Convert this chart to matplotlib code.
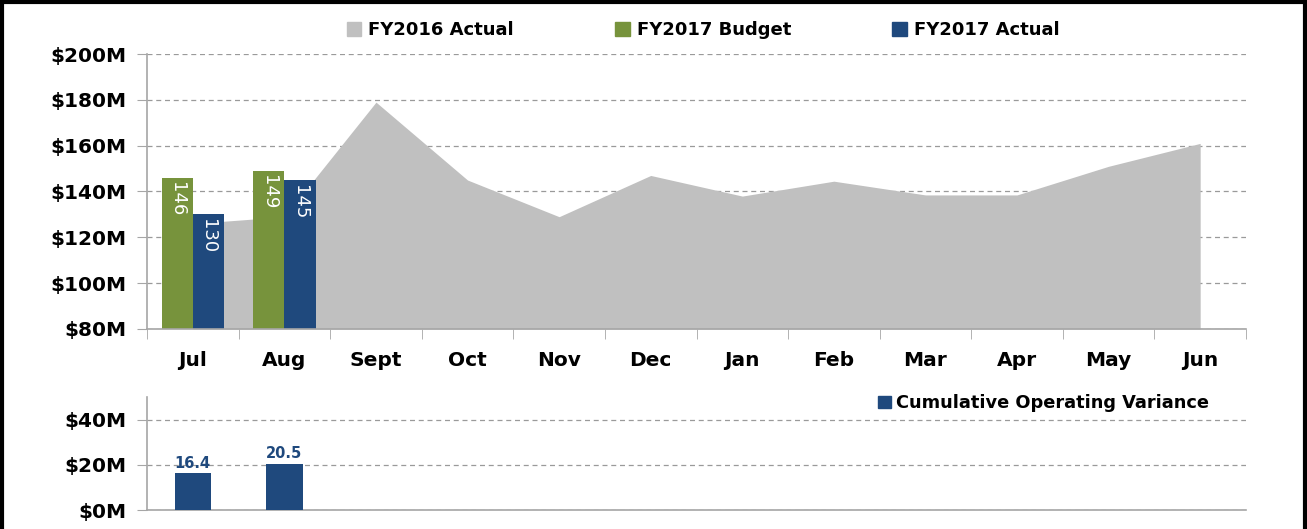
import numpy as np
import matplotlib.pyplot as plt
from matplotlib.patches import Patch
from matplotlib.lines import Line2D

months = ['Jul', 'Aug', 'Sept', 'Oct', 'Nov', 'Dec', 'Jan', 'Feb', 'Mar', 'Apr', 'May', 'Jun']
fy2016_actual = [126, 129, 179, 145, 129, 147, 138, 144.5, 138.5, 138.5, 151, 161]
fy2017_budget = [146, 149]
fy2017_actual = [130, 145]
cum_variance = [16.4, 20.5]

grey = '#c0c0c0'
green = '#77933c'
blue = '#1f497d'
axis_grey = '#a6a6a6'
grid_grey = '#9a9a9a'

plt.rcParams['font.family'] = 'DejaVu Sans'

fig = plt.figure(figsize=(13.07, 5.29), dpi=100)
ax = fig.add_axes([0.1125, 0.3781, 0.8408, 0.5198])
ax2 = fig.add_axes([0.1125, 0.0359, 0.8408, 0.2136])

x = np.arange(len(months))

# top panel
ax.fill_between(x, fy2016_actual, 80, color=grey, lw=0, zorder=2)
w = 0.34
xb = np.arange(len(fy2017_budget))
b1 = ax.bar(xb - w / 2, fy2017_budget, w, bottom=0, color=green, zorder=3)
b2 = ax.bar(xb + w / 2, fy2017_actual, w, bottom=0, color=blue, zorder=3)
for bars, vals in [(b1, fy2017_budget), (b2, fy2017_actual)]:
    for b, v in zip(bars, vals):
        ax.text(b.get_x() + b.get_width() / 2, v - 2, '%d' % v, rotation=270,
                ha='center', va='top', color='white', fontsize=13, zorder=4)

ax.set_xlim(-0.5, len(months) - 0.5)
ax.set_ylim(80, 200)
ax.set_yticks(np.arange(80, 201, 20))
ax.set_yticklabels(['$%dM' % v for v in np.arange(80, 201, 20)], fontsize=14.5, fontweight='bold')
ax.set_xticks(x)
ax.set_xticklabels(months, fontsize=14.5, fontweight='bold')
ax.set_xticks(np.arange(-0.5, len(months), 1), minor=True)
ax.tick_params(axis='x', which='major', length=0, pad=16)
ax.tick_params(axis='x', which='minor', length=7, color=axis_grey, direction='out')
ax.tick_params(axis='y', length=7, color=axis_grey, pad=8)
ax.grid(axis='y', linestyle=(0, (4, 3)), color=grid_grey, lw=0.9, zorder=0)
ax.set_axisbelow(True)
for s in ['top', 'right']:
    ax.spines[s].set_visible(False)
for s in ['left', 'bottom']:
    ax.spines[s].set_color(axis_grey)
    ax.spines[s].set_linewidth(1.2)
    ax.spines[s].set_zorder(5)

handles = [Patch(color=grey, label='FY2016 Actual'),
           Patch(color=green, label='FY2017 Budget'),
           Patch(color=blue, label='FY2017 Actual')]
fig.legend(handles=handles, loc='center', bbox_to_anchor=(0.538, 0.943), ncol=3, frameon=False,
           prop={'weight': 'bold', 'size': 13}, handlelength=0.8, handleheight=0.8,
           handletextpad=0.4, columnspacing=5.6)

# bottom panel
ax2.bar(np.arange(len(cum_variance)), cum_variance, 0.4, color=blue, zorder=3)
for i, v in enumerate(cum_variance):
    ax2.text(i, v + 1, '%.1f' % v, ha='center', va='bottom', color=blue,
             fontsize=10.5, fontweight='bold')
ax2.set_xlim(-0.5, len(months) - 0.5)
ax2.set_ylim(0, 50)
ax2.set_yticks([0, 20, 40])
ax2.set_yticklabels(['$%dM' % v for v in [0, 20, 40]], fontsize=14.5, fontweight='bold')
ax2.set_xticks([])
ax2.tick_params(axis='y', length=7, color=axis_grey, pad=8)
ax2.grid(axis='y', linestyle=(0, (4, 3)), color=grid_grey, lw=0.9, zorder=0)
ax2.set_axisbelow(True)
for s in ['top', 'right']:
    ax2.spines[s].set_visible(False)
for s in ['left', 'bottom']:
    ax2.spines[s].set_color(axis_grey)
    ax2.spines[s].set_linewidth(1.2)
ax2.legend(handles=[Patch(color=blue, label='Cumulative Operating Variance')],
           loc='upper right', bbox_to_anchor=(0.981, 1.165), frameon=False,
           prop={'weight': 'bold', 'size': 12.8}, handlelength=0.7, handleheight=0.7,
           handletextpad=0.3)

# outer frame
for xs, ys in [([0.0015, 0.0015], [0, 1]), ([0, 1], [0.997, 0.997]), ([0.9985, 0.9985], [0, 1])]:
    fig.add_artist(Line2D(xs, ys, color='black', lw=3, transform=fig.transFigure))

fig.savefig('out.png', dpi=100)
